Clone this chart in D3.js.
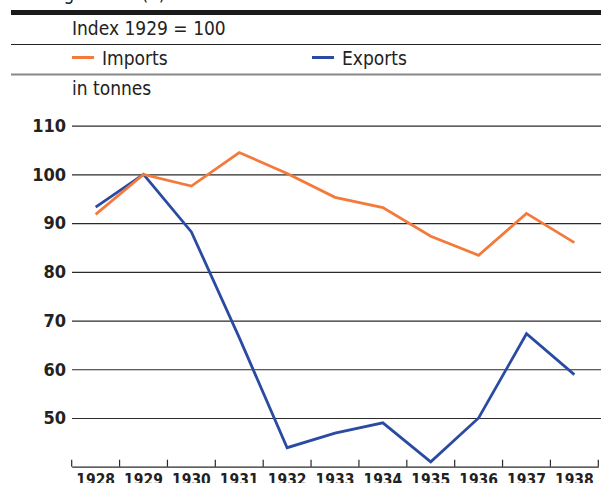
<!DOCTYPE html>
<html>
<head>
<meta charset="utf-8">
<script src="https://cdn.jsdelivr.net/npm/d3@7"></script>
<style>
  html, body { margin: 0; padding: 0; background: #fff; }
  svg { display: block; font-family: "DejaVu Sans Condensed", "DejaVu Sans", sans-serif; }
</style>
</head>
<body>
<svg id="chart" width="601" height="483"></svg>
<script>
// values (index, 1929 = 100)
const years = ['1928', '1929', '1930', '1931', '1932', '1933', '1934', '1935', '1936', '1937', '1938']
const imports = [91.8, 100, 97.6, 104.5, 100.2, 95.3, 93.2, 87.3, 83.4, 92.0, 86.0]
const exports = [93.3, 100, 88.2, 66.5, 43.9, 46.9, 49.0, 41.0, 50.0, 67.3, 58.9]
const yTicks = [50, 60, 70, 80, 90, 100, 110]

const orange = '#f47a3c'
const blue = '#2a4ba2'

const svg = d3.select('#chart')

// header block: cut off title, rules, subtitle, legend, unit
svg.append('text').attr('x', 22).attr('y', 0).attr('font-size', 19).attr('fill', '#222')
    .text('Foreign trade (a)')
svg.append('rect').attr('x', 11).attr('y', 10).attr('width', 590).attr('height', 5).attr('fill', '#1a1a1a')
svg.append('text').attr('x', 72).attr('y', 35).attr('font-size', 19).attr('fill', '#222')
    .text('Index 1929 = 100')
svg.append('line').attr('x1', 11).attr('x2', 601).attr('y1', 44.5).attr('y2', 44.5)
    .attr('stroke', '#222').attr('stroke-width', 1)

const legend = [
    { name: 'Imports', color: orange, x: 72 },
    { name: 'Exports', color: blue, x: 312 }
]
legend.forEach((d) => {
    svg.append('line').attr('x1', d.x).attr('x2', d.x + 22).attr('y1', 57.5).attr('y2', 57.5)
        .attr('stroke', d.color).attr('stroke-width', 3)
    svg.append('text').attr('x', d.x + 30).attr('y', 65).attr('font-size', 19).attr('fill', '#222')
        .text(d.name)
})
svg.append('line').attr('x1', 11).attr('x2', 601).attr('y1', 74.5).attr('y2', 74.5)
    .attr('stroke', '#888').attr('stroke-width', 2)
svg.append('text').attr('x', 72).attr('y', 95).attr('font-size', 19).attr('fill', '#222')
    .text('in tonnes')

// scales
const x = d3.scaleBand().domain(years).range([71.7, 598.3])
const y = d3.scaleLinear().domain([40, 110]).range([466.7, 125.7])
const cx = (d) => x(d) + x.bandwidth() / 2

// gridlines + y labels
const yAxis = svg.append('g').attr('transform', 'translate(72,0)')
    .call(d3.axisLeft(y).tickValues(yTicks).tickSize(-529).tickPadding(6))
yAxis.select('.domain').remove()
yAxis.selectAll('line').attr('stroke', '#2a2a2a').attr('stroke-width', 1.2)
yAxis.selectAll('text').attr('font-size', 18).attr('font-weight', 'bold').attr('fill', '#222')
    .attr('font-family', '"DejaVu Sans Condensed", "DejaVu Sans", sans-serif')

// x axis: baseline, ticks at band edges, year labels centred in bands
const xAxis = svg.append('g').attr('transform', 'translate(0,' + y(40) + ')')
    .call(d3.axisBottom(x).tickSize(0).tickPadding(0))
xAxis.select('.domain').attr('stroke', '#2a2a2a').attr('stroke-width', 1.2)
xAxis.selectAll('text').attr('font-size', 15.5).attr('font-weight', 'bold').attr('fill', '#222')
    .attr('dy', null).attr('y', 18.5)
    .attr('font-family', '"DejaVu Sans Condensed", "DejaVu Sans", sans-serif')
const edges = years.map((d) => x(d)).concat([x.range()[1]])
xAxis.selectAll('.edge').data(edges).enter().append('line')
    .attr('x1', (d) => d).attr('x2', (d) => d).attr('y1', -7).attr('y2', 0)
    .attr('stroke', '#2a2a2a').attr('stroke-width', 1.2)

// series
const line = (vals) => d3.line().x((d, i) => cx(years[i])).y((d) => y(d))(vals)
svg.append('path').attr('d', line(exports)).attr('fill', 'none')
    .attr('stroke', blue).attr('stroke-width', 2.8).attr('stroke-linejoin', 'miter')
svg.append('path').attr('d', line(imports)).attr('fill', 'none')
    .attr('stroke', orange).attr('stroke-width', 2.8).attr('stroke-linejoin', 'miter')
</script>
</body>
</html>
